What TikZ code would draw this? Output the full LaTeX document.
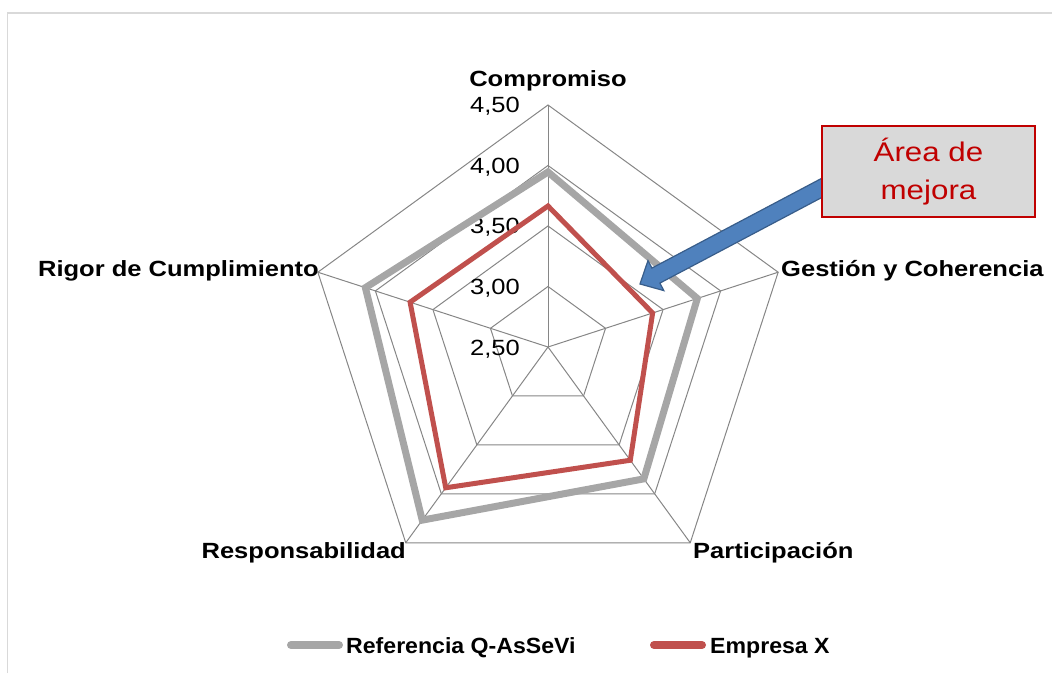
\documentclass[tikz,border=0pt]{standalone}
\usepackage{fontspec}
\setmainfont{Liberation Sans}
\usetikzlibrary{calc}
\definecolor{gridc}{HTML}{868686}
\definecolor{refc}{HTML}{A6A6A6}
\definecolor{empc}{HTML}{C0504D}
\definecolor{boxfill}{HTML}{D9D9D9}
\definecolor{boxred}{HTML}{C00000}
\definecolor{arrfill}{HTML}{4F81BD}
\definecolor{arrdraw}{HTML}{385D8A}
\definecolor{framec}{HTML}{D9D9D9}
\newcommand{\wide}[2][1.16]{\scalebox{#1}[1]{#2}}
\pgfdeclarelayer{front}
\pgfsetlayers{main,front}
\begin{document}
\begin{tikzpicture}[x=1pt,y=1pt,
  gridline/.style={draw=gridc,line width=1pt},
  refline/.style={draw=refc,line width=7pt,line join=miter,miter limit=10},
  empline/.style={draw=empc,line width=5pt,line join=miter,miter limit=10},
  ticklab/.style={anchor=base east,inner sep=0pt,font=\fontsize{22}{26}\selectfont},
  catlab/.style={inner sep=0pt,font=\fontsize{22}{26}\selectfont\bfseries},
  leglab/.style={anchor=base west,inner sep=0pt,font=\fontsize{22}{26}\selectfont\bfseries},
  legline/.style={line width=8pt,line cap=round},
  callout/.style={draw=boxred,fill=boxfill,line width=1.2pt,minimum width=213pt,minimum height=91pt,inner sep=0pt,text=boxred,align=center,font=\fontsize{27}{38}\selectfont},
  blockarrow/.style={fill=arrfill,draw=arrdraw,line width=1.2pt,line join=miter}
]
\useasboundingbox (0,0) rectangle (1052,673);
\coordinate (C) at (548,326);
\draw[framec,line width=1.5pt] (7.5,0) -- (7.5,660) -- (1052,660);
% grid
\foreach \r in {60.5,121,181.5,242}{
  \draw[gridline] ($(C)+(90:\r)$) -- ($(C)+(18:\r)$) -- ($(C)+(-54:\r)$) -- ($(C)+(-126:\r)$) -- ($(C)+(162:\r)$) -- cycle;
}
\foreach \a in {90,18,-54,-126,162} \draw[gridline] (C) -- ($(C)+(\a:242)$);
% tick labels
\node[ticklab] (t250) at (520,318) {\wide{2,50}};
\node[ticklab] (t300) at (520,378) {\wide{3,00}};
\node[ticklab] (t350) at (520,439) {\wide{3,50}};
\node[ticklab] (t400) at (520,499) {\wide{4,00}};
\node[ticklab] (t450) at (520,560) {\wide{4,50}};
% data
\draw[refline] ($(C)+(90:175)$) -- ($(C)+(18:157)$) -- ($(C)+(-54:163)$) -- ($(C)+(-126:214)$) -- ($(C)+(162:192)$) -- cycle;
\draw[empline] ($(C)+(90:141)$) -- ($(C)+(18:110)$) -- ($(C)+(-54:140)$) -- ($(C)+(-126:174)$) -- ($(C)+(162:145)$) -- cycle;
% category labels
\node[catlab,anchor=base] (comp) at (548,586) {\wide{Compromiso}};
\node[catlab,anchor=base west] (gest) at (781,396) {\wide{Gestión y Coherencia}};
\node[catlab,anchor=base east] (rigor) at (319,396) {\wide{Rigor de Cumplimiento}};
\node[catlab,anchor=base east] (resp) at (406,115) {\wide{Responsabilidad}};
\node[catlab,anchor=base west] (part) at (693,115) {\wide{Participación}};
% callout
\begin{pgfonlayer}{front}
\node[callout] (box) at (928.5,501.5) {\wide{Área de}\\\wide{mejora}};
\end{pgfonlayer}
\coordinate (tip) at (640,389);
\coordinate (edge) at ($(box.south west)!0.32!(box.north west)$);
\coordinate (tail) at ($(tip)!1.04!(edge)$);
\coordinate (neck) at ($(tip)!18pt!(tail)$);
\filldraw[blockarrow] (tip) -- ($(neck)!17pt!90:(tail)$) -- ($(neck)!8.5pt!90:(tail)$) -- ($(tail)!8.5pt!-90:(neck)$) -- ($(tail)!8.5pt!90:(neck)$) -- ($(neck)!8.5pt!-90:(tail)$) -- ($(neck)!17pt!-90:(tail)$) -- cycle;
% legend
\coordinate (lg1a) at (291,28);
\coordinate (lg1b) at (339,28);
\draw[legline,refc] (lg1a) -- (lg1b);
\node[leglab] (lref) at (346,20) {\wide[1.05]{Referencia Q-AsSeVi}};
\coordinate (lg2a) at (654,28);
\coordinate (lg2b) at (702,28);
\draw[legline,empc] (lg2a) -- (lg2b);
\node[leglab] (lemp) at (710,20) {\wide[1.05]{Empresa X}};
\end{tikzpicture}
\end{document}
